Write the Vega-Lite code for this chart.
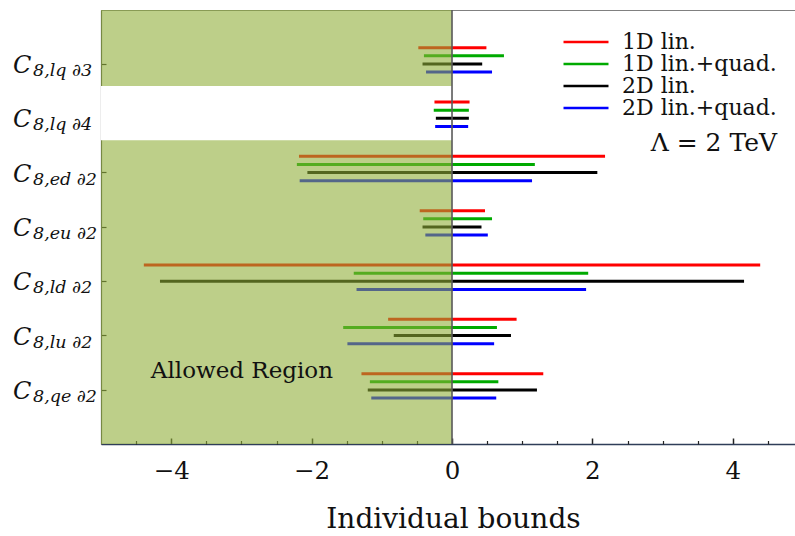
{
  "$schema": "https://vega.github.io/schema/vega-lite/v6.json",
  "width": 695,
  "height": 434,
  "autosize": {"type": "none"},
  "padding": {"left": 101, "top": 10, "right": 0, "bottom": 92},
  "background": "white",
  "config": {
    "font": "DejaVu Serif",
    "view": {"stroke": "#808080", "strokeWidth": 1},
    "axis": {"zindex": 1}
  },
  "resolve": {"axis": {"x": "independent"}, "scale": {"yOffset": "independent"}},
  "datasets": {
    "bounds": [
      {"op": "C_{8,lq∂3}", "series": "1D lin.", "lo": -0.48, "hi": 0.49},
      {"op": "C_{8,lq∂3}", "series": "1D lin.+quad.", "lo": -0.40, "hi": 0.74},
      {"op": "C_{8,lq∂3}", "series": "2D lin.", "lo": -0.42, "hi": 0.43},
      {"op": "C_{8,lq∂3}", "series": "2D lin.+quad.", "lo": -0.37, "hi": 0.57},
      {"op": "C_{8,lq∂4}", "series": "1D lin.", "lo": -0.25, "hi": 0.25},
      {"op": "C_{8,lq∂4}", "series": "1D lin.+quad.", "lo": -0.26, "hi": 0.24},
      {"op": "C_{8,lq∂4}", "series": "2D lin.", "lo": -0.23, "hi": 0.24},
      {"op": "C_{8,lq∂4}", "series": "2D lin.+quad.", "lo": -0.24, "hi": 0.23},
      {"op": "C_{8,ed∂2}", "series": "1D lin.", "lo": -2.18, "hi": 2.18},
      {"op": "C_{8,ed∂2}", "series": "1D lin.+quad.", "lo": -2.21, "hi": 1.18},
      {"op": "C_{8,ed∂2}", "series": "2D lin.", "lo": -2.06, "hi": 2.07},
      {"op": "C_{8,ed∂2}", "series": "2D lin.+quad.", "lo": -2.17, "hi": 1.14},
      {"op": "C_{8,eu∂2}", "series": "1D lin.", "lo": -0.46, "hi": 0.47},
      {"op": "C_{8,eu∂2}", "series": "1D lin.+quad.", "lo": -0.41, "hi": 0.57},
      {"op": "C_{8,eu∂2}", "series": "2D lin.", "lo": -0.42, "hi": 0.42},
      {"op": "C_{8,eu∂2}", "series": "2D lin.+quad.", "lo": -0.38, "hi": 0.51},
      {"op": "C_{8,ld∂2}", "series": "1D lin.", "lo": -4.39, "hi": 4.39},
      {"op": "C_{8,ld∂2}", "series": "1D lin.+quad.", "lo": -1.40, "hi": 1.94},
      {"op": "C_{8,ld∂2}", "series": "2D lin.", "lo": -4.16, "hi": 4.16},
      {"op": "C_{8,ld∂2}", "series": "2D lin.+quad.", "lo": -1.36, "hi": 1.91},
      {"op": "C_{8,lu∂2}", "series": "1D lin.", "lo": -0.91, "hi": 0.92},
      {"op": "C_{8,lu∂2}", "series": "1D lin.+quad.", "lo": -1.55, "hi": 0.64},
      {"op": "C_{8,lu∂2}", "series": "2D lin.", "lo": -0.83, "hi": 0.84},
      {"op": "C_{8,lu∂2}", "series": "2D lin.+quad.", "lo": -1.49, "hi": 0.60},
      {"op": "C_{8,qe∂2}", "series": "1D lin.", "lo": -1.29, "hi": 1.30},
      {"op": "C_{8,qe∂2}", "series": "1D lin.+quad.", "lo": -1.17, "hi": 0.66},
      {"op": "C_{8,qe∂2}", "series": "2D lin.", "lo": -1.20, "hi": 1.21},
      {"op": "C_{8,qe∂2}", "series": "2D lin.+quad.", "lo": -1.15, "hi": 0.63}
    ],
    "ops": [
      {"op": "C_{8,lq∂3}", "sub": "8,lq ∂3"},
      {"op": "C_{8,lq∂4}", "sub": "8,lq ∂4"},
      {"op": "C_{8,ed∂2}", "sub": "8,ed ∂2"},
      {"op": "C_{8,eu∂2}", "sub": "8,eu ∂2"},
      {"op": "C_{8,ld∂2}", "sub": "8,ld ∂2"},
      {"op": "C_{8,lu∂2}", "sub": "8,lu ∂2"},
      {"op": "C_{8,qe∂2}", "sub": "8,qe ∂2"}
    ]
  },
  "layer": [
    {
      "data": {"name": "bounds"},
      "transform": [{"filter": "datum.op !== 'C_{8,lq∂4}'"}],
      "mark": {"type": "rule", "strokeWidth": 3},
      "encoding": {
        "x": {
          "field": "lo", "type": "quantitative",
          "scale": {"domain": [-5, 4.9], "nice": false, "zero": false},
          "axis": {
            "orient": "bottom",
            "title": "Individual bounds",
            "titleFontSize": 28, "titleFontWeight": "normal", "titleColor": "#111",
            "titlePadding": 23, "titleX": 352,
            "values": [-4, -2, 0, 2, 4],
            "format": "d",
            "labelFontSize": 24.5, "labelColor": "#111", "labelPadding": 21,
            "tickSize": -6,
            "tickColor": "#222", "tickWidth": 1.5,
            "domainColor": "#2f3d58", "domainWidth": 1.5,
            "grid": false
          }
        },
        "x2": {"field": "hi"},
        "y": {
          "field": "op", "type": "nominal",
          "scale": {"type": "band", "domain": ["C_{8,lq∂3}", "C_{8,lq∂4}", "C_{8,ed∂2}", "C_{8,eu∂2}", "C_{8,ld∂2}", "C_{8,lu∂2}", "C_{8,qe∂2}"], "paddingInner": 0, "paddingOuter": 0.494, "align": 0.404},
          "axis": {
            "title": null, "labels": false, "grid": false,
            "ticks": true, "tickSize": -5, "tickColor": "#222", "tickWidth": 1.2,
            "bandPosition": 0.595,
            "domainColor": "#555", "domainWidth": 1.2
          }
        },
        "yOffset": {
          "field": "series", "type": "nominal",
          "scale": {"type": "point", "domain": ["1D lin.", "1D lin.+quad.", "2D lin.", "2D lin.+quad."], "range": [16, 40.4], "padding": 0}
        },
        "color": {
          "field": "series", "type": "nominal",
          "scale": {"domain": ["1D lin.", "1D lin.+quad.", "2D lin.", "2D lin.+quad."], "range": ["#ff0000", "#00aa00", "#000000", "#0000ff"]},
          "legend": {
            "orient": "none", "legendX": 474, "legendY": 21,
            "title": "Λ = 2 TeV", "titleOrient": "bottom", "titleAnchor": "end", "titleAlign": "right",
            "titleFontSize": 25, "titleFontWeight": "normal", "titleColor": "#111", "titlePadding": 12,
            "symbolType": "M-2.368,0H2.368", "symbolSize": 361, "symbolStrokeWidth": 2.5,
            "labelFontSize": 22, "labelColor": "#111", "labelOffset": 25,
            "rowPadding": 0
          }
        }
      }
    },
    {
      "data": {"values": [{"region": "allowed"}]},
      "mark": {"type": "rect", "color": "#8fae37", "opacity": 0.59},
      "encoding": {
        "x": {"datum": -5, "axis": null},
        "x2": {"datum": 0}
      }
    },
    {
      "data": {"values": [{"op": "C_{8,lq∂4}"}]},
      "mark": {"type": "rect", "color": "white", "opacity": 1},
      "encoding": {
        "x": {"datum": -5, "axis": null},
        "x2": {"datum": 0},
        "y": {"field": "op", "type": "nominal"}
      }
    },
    {
      "data": {"name": "bounds"},
      "transform": [{"filter": "datum.op === 'C_{8,lq∂4}'"}],
      "mark": {"type": "rule", "strokeWidth": 3},
      "encoding": {
        "x": {"field": "lo", "type": "quantitative", "axis": null},
        "x2": {"field": "hi"},
        "y": {"field": "op", "type": "nominal"},
        "yOffset": {
          "field": "series", "type": "nominal",
          "scale": {"type": "point", "domain": ["1D lin.", "1D lin.+quad.", "2D lin.", "2D lin.+quad."], "range": [16, 40.4], "padding": 0}
        },
        "color": {"field": "series", "type": "nominal"}
      }
    },
    {
      "data": {"values": [{"line": "zero"}]},
      "mark": {"type": "rule", "color": "#5a5a5a", "strokeWidth": 1.6},
      "encoding": {
        "x": {
          "datum": 0,
          "axis": {
            "orient": "bottom",
            "title": null, "labels": false, "domain": false, "grid": false,
            "values": [-4.5, -3.5, -3, -2.5, -1.5, -1, -0.5, 0.5, 1, 1.5, 2.5, 3, 3.5, 4.5],
            "tickSize": -3.5, "tickColor": "#222", "tickWidth": 1.2
          }
        }
      }
    },
    {
      "data": {"values": [{"op": "C_{8,qe∂2}", "note": "Allowed Region"}]},
      "mark": {"type": "text", "align": "left", "baseline": "alphabetic", "fontSize": 23, "color": "#111", "dy": -7},
      "encoding": {
        "x": {"datum": -4.29, "axis": null},
        "y": {"field": "op", "type": "nominal"},
        "text": {"field": "note"}
      }
    },
    {
      "data": {"name": "ops"},
      "mark": {"type": "text", "align": "left", "baseline": "alphabetic", "fontSize": 24, "fontStyle": "italic", "color": "#111", "dx": -88, "dy": 14, "clip": false},
      "encoding": {
        "x": {"datum": -5, "axis": null},
        "y": {"field": "op", "type": "nominal"},
        "text": {"value": "C"}
      }
    },
    {
      "data": {"name": "ops"},
      "mark": {"type": "text", "align": "left", "baseline": "alphabetic", "fontSize": 17.5, "fontStyle": "italic", "color": "#111", "dx": -68, "dy": 17, "clip": false},
      "encoding": {
        "x": {"datum": -5, "axis": null},
        "y": {"field": "op", "type": "nominal"},
        "text": {"field": "sub"}
      }
    }
  ]
}
